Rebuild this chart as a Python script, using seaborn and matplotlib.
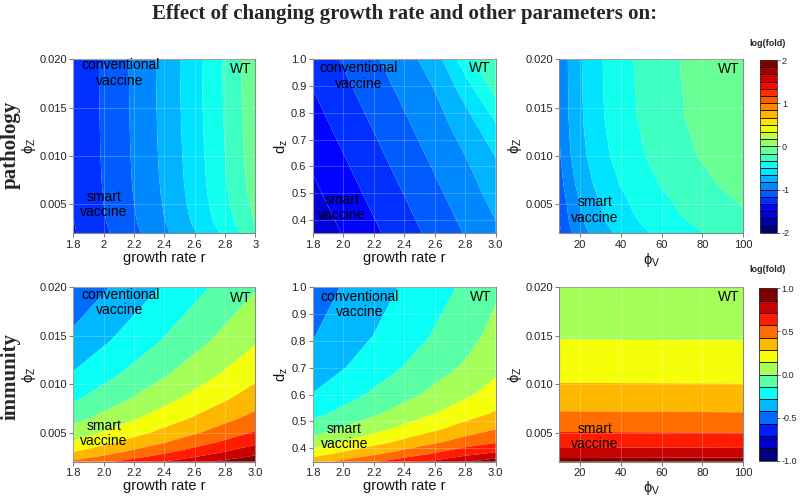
import numpy as np
import matplotlib
matplotlib.use("Agg")
import matplotlib.pyplot as plt
import seaborn as sns

# ---------------- data (log(fold)) ----------------
r_grid = [1.8, 2.0, 2.2, 2.4, 2.6, 2.8, 3.0]

# pathology: growth rate r vs phi_Z
phiz_A = [0.002, 0.003, 0.004, 0.006, 0.008, 0.011, 0.015, 0.020]
path_r_phiz = [
    [-1.350, -1.200, -1.040, -0.870, -0.680, -0.460, -0.220],
    [-1.339, -1.183, -1.020, -0.845, -0.646, -0.418, -0.170],
    [-1.332, -1.173, -1.009, -0.830, -0.626, -0.393, -0.139],
    [-1.324, -1.161, -0.995, -0.812, -0.602, -0.363, -0.103],
    [-1.319, -1.154, -0.986, -0.801, -0.588, -0.345, -0.081],
    [-1.315, -1.148, -0.979, -0.792, -0.576, -0.330, -0.063],
    [-1.312, -1.143, -0.974, -0.785, -0.566, -0.318, -0.049],
    [-1.310, -1.140, -0.970, -0.780, -0.560, -0.310, -0.040],
]

# pathology: growth rate r vs d_z
dz_B = [0.35, 0.48, 0.61, 0.74, 0.87, 1.0]
path_r_dz = [
    [-1.616, -1.491, -1.366, -1.240, -1.115, -0.990, -0.865],
    [-1.548, -1.423, -1.297, -1.172, -1.047, -0.922, -0.783],
    [-1.480, -1.354, -1.229, -1.104, -0.979, -0.853, -0.691],
    [-1.411, -1.286, -1.161, -1.036, -0.911, -0.768, -0.545],
    [-1.343, -1.218, -1.093, -0.968, -0.842, -0.620, -0.310],
    [-1.275, -1.150, -1.024, -0.899, -0.753, -0.400, -0.150],
]

# pathology: phi_V vs phi_Z
phiv_C = [10, 15, 22, 32, 46, 68, 100]
phiz_C = [0.002, 0.003, 0.004, 0.005, 0.007, 0.010, 0.014, 0.020]
path_phiv_phiz = [
    [-1.205, -1.034, -0.874, -0.716, -0.564, -0.400, -0.238],
    [-1.170, -0.999, -0.839, -0.681, -0.529, -0.365, -0.203],
    [-1.144, -0.973, -0.813, -0.655, -0.503, -0.339, -0.177],
    [-1.126, -0.955, -0.795, -0.637, -0.485, -0.321, -0.159],
    [-1.070, -0.899, -0.739, -0.581, -0.429, -0.265, -0.103],
    [-1.020, -0.849, -0.689, -0.531, -0.379, -0.215, -0.053],
    [-0.989, -0.818, -0.658, -0.500, -0.348, -0.184, -0.022],
    [-0.976, -0.805, -0.645, -0.487, -0.335, -0.171, -0.009],
]

# immunity: growth rate r vs phi_Z
phiz_D = [0.002, 0.0025, 0.003, 0.004, 0.005, 0.0065, 0.0085, 0.011, 0.0145, 0.020]
imm_r_phiz = [
    [0.459, 0.546, 0.632, 0.719, 0.806, 0.892, 0.979],
    [0.363, 0.450, 0.537, 0.623, 0.710, 0.796, 0.883],
    [0.285, 0.372, 0.458, 0.545, 0.632, 0.718, 0.805],
    [0.161, 0.248, 0.335, 0.421, 0.508, 0.595, 0.681],
    [0.065, 0.152, 0.239, 0.325, 0.412, 0.499, 0.585],
    [-0.048, 0.039, 0.126, 0.213, 0.299, 0.386, 0.473],
    [-0.163, -0.076, 0.010, 0.097, 0.184, 0.270, 0.357],
    [-0.274, -0.187, -0.101, -0.014, 0.073, 0.159, 0.246],
    [-0.393, -0.306, -0.219, -0.133, -0.046, 0.041, 0.127],
    [-0.531, -0.444, -0.358, -0.271, -0.184, -0.098, -0.011],
]

# immunity: growth rate r vs d_z
dz_E = [0.35, 0.38, 0.42, 0.47, 0.53, 0.60, 0.70, 0.82, 1.0]
imm_r_dz = [
    [0.372, 0.465, 0.558, 0.651, 0.743, 0.837, 0.940],
    [0.222, 0.312, 0.402, 0.492, 0.581, 0.671, 0.740],
    [0.070, 0.157, 0.243, 0.330, 0.417, 0.504, 0.570],
    [-0.068, 0.016, 0.099, 0.184, 0.267, 0.351, 0.430],
    [-0.185, -0.104, -0.022, 0.059, 0.140, 0.222, 0.300],
    [-0.280, -0.201, -0.121, -0.042, 0.038, 0.118, 0.200],
    [-0.369, -0.292, -0.214, -0.137, -0.059, 0.019, 0.110],
    [-0.436, -0.360, -0.284, -0.208, -0.131, -0.055, 0.045],
    [-0.495, -0.420, -0.345, -0.270, -0.195, -0.120, -0.025],
]

# immunity: phi_V vs phi_Z
phiv_F = [10, 55, 100]
phiz_F = [0.002, 0.003, 0.004, 0.006, 0.008, 0.011, 0.015, 0.020]
imm_phiv_phiz = [
    [0.935, 0.930, 0.925],
    [0.772, 0.768, 0.764],
    [0.655, 0.651, 0.647],
    [0.500, 0.497, 0.494],
    [0.381, 0.378, 0.375],
    [0.248, 0.246, 0.244],
    [0.131, 0.130, 0.129],
    [0.061, 0.060, 0.059],
]

title = "Effect of changing growth rate and other parameters on:"
row_labels = ["pathology", "immunity"]

# ---------------- styling ----------------
sns.set_theme(style="white")
plt.rcParams['font.family'] = ['Liberation Sans', 'DejaVu Sans']
plt.rcParams['mathtext.default'] = 'regular'
plt.rcParams['axes.unicode_minus'] = False

jet_anchor = ["#00007F", "#0000FF", "#007FFF", "#00FFFF", "#7FFF7F",
              "#FFFF00", "#FF7F00", "#FF0000", "#7F0000"]
pal_path = sns.blend_palette(jet_anchor, n_colors=24)
pal_imm = sns.blend_palette(jet_anchor, n_colors=14)
lev_path = np.linspace(-2, 2, 25)
lev_imm = np.linspace(-1, 1, 15)

W, H = 800, 499
fig = plt.figure(figsize=(W / 100, H / 100), dpi=100)


def ax_px(l, t, r, b):
    return fig.add_axes([l / W, 1 - b / H, (r - l) / W, (b - t) / H])


cols_px = [(73.3, 255.3), (312.7, 495.7), (559.3, 743.3)]
rows_px = [(59.3, 233.3), (287.3, 461.7)]

r_ticks = [1.8, 2.0, 2.2, 2.4, 2.6, 2.8, 3.0]
phiz_ticks = [0.005, 0.010, 0.015, 0.020]
dz_ticks = [0.4, 0.5, 0.6, 0.7, 0.8, 0.9, 1.0]
phiv_ticks = [20, 40, 60, 80, 100]

panels = [
    (0, 0, r_grid, phiz_A, path_r_phiz, lev_path, pal_path, r_ticks,
     ["1.8", "2", "2.2", "2.4", "2.6", "2.8", "3"], phiz_ticks, "%.3f",
     "growth rate r", r"$\phi_Z$",
     [(0.257, 0.921, "conventional\nvaccine"), (0.169, 0.168, "smart\nvaccine"), (0.92, 0.943, "WT")]),
    (0, 1, r_grid, dz_B, path_r_dz, lev_path, pal_path, r_ticks, None, dz_ticks, "%.1f",
     "growth rate r", r"$d_z$",
     [(0.249, 0.904, "conventional\nvaccine"), (0.158, 0.147, "smart\nvaccine"), (0.914, 0.948, "WT")]),
    (0, 2, phiv_C, phiz_C, path_phiv_phiz, lev_path, pal_path, phiv_ticks, None, phiz_ticks, "%.3f",
     r"$\phi_V$", r"$\phi_Z$",
     [(0.192, 0.134, "smart\nvaccine"), (0.922, 0.943, "WT")]),
    (1, 0, r_grid, phiz_D, imm_r_phiz, lev_imm, pal_imm, r_ticks, None, phiz_ticks, "%.3f",
     "growth rate r", r"$\phi_Z$",
     [(0.257, 0.912, "conventional\nvaccine"), (0.169, 0.163, "smart\nvaccine"), (0.92, 0.937, "WT")]),
    (1, 1, r_grid, dz_E, imm_r_dz, lev_imm, pal_imm, r_ticks, None, dz_ticks, "%.1f",
     "growth rate r", r"$d_z$",
     [(0.258, 0.903, "conventional\nvaccine"), (0.174, 0.147, "smart\nvaccine"), (0.918, 0.946, "WT")]),
    (1, 2, phiv_F, phiz_F, imm_phiv_phiz, lev_imm, pal_imm, phiv_ticks, None, phiz_ticks, "%.3f",
     r"$\phi_V$", r"$\phi_Z$",
     [(0.194, 0.143, "smart\nvaccine"), (0.922, 0.946, "WT")]),
]

contour_sets = {}
for (row, col, xv, yv, zv, lev, pal, xt, xtl, yt, yfmt, xlab, ylab, texts) in panels:
    l, r = cols_px[col]
    t, b = rows_px[row]
    ax = ax_px(l, t, r, b)
    X, Y = np.meshgrid(np.asarray(xv, float), np.asarray(yv, float))
    cs = ax.contourf(X, Y, np.asarray(zv, float), levels=lev, colors=pal, antialiased=True)
    contour_sets[row] = cs
    ax.set_xlim(xv[0], xv[-1])
    ax.set_ylim(yv[0], yv[-1])
    ax.set_xticks(xt)
    if xtl is not None:
        ax.set_xticklabels(xtl)
    elif xt is r_ticks:
        ax.set_xticklabels(["%.1f" % v for v in xt])
    else:
        ax.set_xticklabels(["%d" % v for v in xt])
    ax.set_yticks(yt)
    ax.set_yticklabels([yfmt % v for v in yt])
    ax.set_axisbelow(False)
    ax.grid(True, color="white", alpha=0.25, lw=0.6)
    ax.tick_params(bottom=True, left=True, direction="out", length=3, width=0.6,
                   color="#666666", labelsize=8, pad=1.5, labelcolor="#222222")
    for s in ax.spines.values():
        s.set_color("#8a8a8a")
        s.set_linewidth(0.8)
    ax.set_xlabel(xlab, fontsize=10.5, labelpad=1, color="#111111")
    ax.set_ylabel(ylab, fontsize=10.5, labelpad=1, color="#111111")
    for (tx, ty, s) in texts:
        ax.text(tx, ty, s, transform=ax.transAxes, ha="center", va="center",
                fontsize=10, color="black", linespacing=1.1)

# colorbars
cb_specs = [
    (0, (760, 60, 777, 232.7), [-2, -1, 0, 1, 2], "%d", 44),
    (1, (759, 288.3, 776.7, 460.7), [-1, -0.5, 0, 0.5, 1], "%.1f", 270),
]
for row, (l, t, r, b), ticks, fmt, ly in cb_specs:
    cax = ax_px(l, t, r, b)
    cb = fig.colorbar(contour_sets[row], cax=cax, drawedges=True, ticks=ticks)
    cb.ax.set_yticklabels([fmt % v for v in ticks])
    cb.dividers.set_color("black")
    cb.dividers.set_linewidth(0.6)
    cb.outline.set_edgecolor("#333333")
    cb.outline.set_linewidth(0.6)
    cb.ax.tick_params(right=True, labelsize=6.5, length=2, width=0.5, pad=1.5, color="#333333")
    fig.text(768 / W, 1 - ly / H, "log(fold)", ha="center", va="center",
             fontsize=6.5, weight="bold")

fig.text(405 / W, 1 - 14 / H, title, ha="center", va="center",
         family=["Liberation Serif", "DejaVu Serif"], weight="bold", fontsize=15)
fig.text(11 / W, 1 - 145 / H, row_labels[0], rotation=90, ha="center", va="center",
         family=["Liberation Serif", "DejaVu Serif"], weight="bold", fontsize=15)
fig.text(11 / W, 1 - 377 / H, row_labels[1], rotation=90, ha="center", va="center",
         family=["Liberation Serif", "DejaVu Serif"], weight="bold", fontsize=15)

fig.savefig("out.png", dpi=100)
